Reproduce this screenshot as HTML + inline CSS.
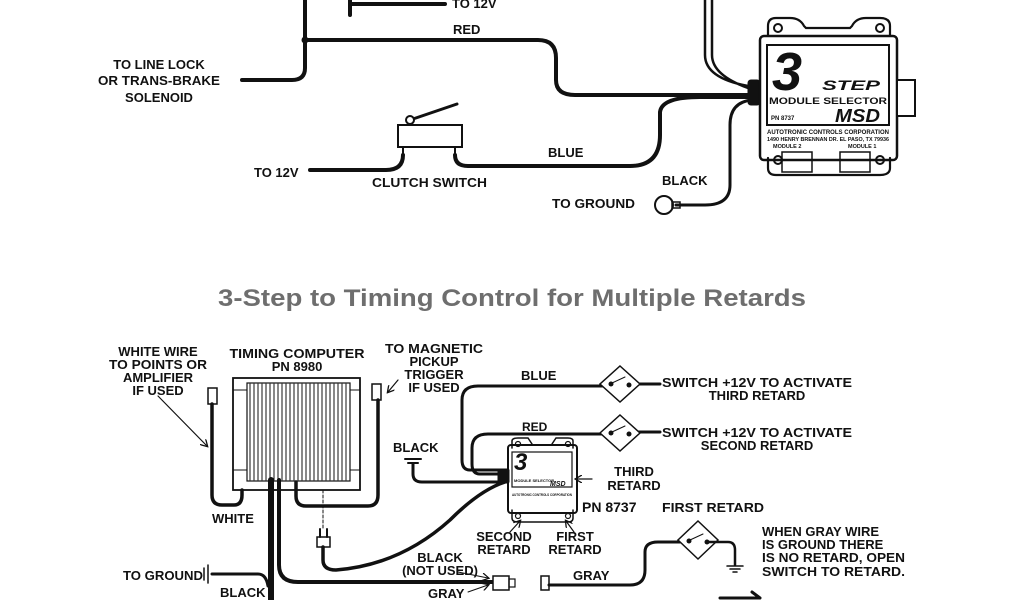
<!DOCTYPE html>
<html><head><meta charset="utf-8"><style>
html,body{margin:0;padding:0;background:#fff}
svg{display:block}
text{font-family:"Liberation Sans Narrow","Liberation Sans",sans-serif;font-weight:bold;fill:#111}
</style></head><body>
<svg width="1024" height="600" viewBox="0 0 1024 600" xmlns="http://www.w3.org/2000/svg">
<defs>
<marker id="ah" markerWidth="8" markerHeight="8" refX="6" refY="4" orient="auto" markerUnits="userSpaceOnUse"><path d="M0,0 L7,4 L0,8" fill="none" stroke="#111" stroke-width="1.3"/></marker>
</defs>
<g fill="none" stroke="#111" stroke-linecap="round">
<path d="M350,0 V15 M350,4 H445" stroke-width="4"/>
<path d="M305,0 V68 Q305,80 292,80 H242" stroke-width="4"/>
<circle cx="305" cy="40" r="3" fill="#111"/>
<path d="M305,40 H538 Q556,40 556,58 V80 Q556,95 575,95 H752" stroke-width="4"/>
<path d="M705,0 V55 Q705,78 748,86 M712,0 V55 Q712,75 748,88" stroke-width="2.5"/>
<path d="M310,170 H386 Q403,170 403,155" stroke-width="4"/>
<rect x="398" y="125" width="64" height="22" stroke-width="2" fill="#fff"/>
<path d="M410,120 L457,104" stroke-width="3"/>
<circle cx="410" cy="120" r="4" stroke-width="2" fill="#fff"/>
<path d="M403,147 V156 M455,147 V156" stroke-width="2"/>
<path d="M455,155 Q455,166 468,166 H630 Q660,166 660,135 V112 Q662,97 700,97 H752" stroke-width="4"/>
<path d="M752,100 Q730,102 730,125 V185 Q730,205 705,205 H676" stroke-width="3"/>
<ellipse cx="664" cy="205" rx="9" ry="9" stroke-width="2"/>
<rect x="672" y="202" width="8" height="6" stroke-width="1.5"/>
<rect x="748" y="80" width="12" height="25" rx="3" fill="#111" stroke-width="1"/>
<path d="M768,36 V26 Q768,18 776,18 H790 Q800,18 804,26 L806,28 H850 L852,26 Q856,18 866,18 H880 Q890,18 890,26 V36" stroke-width="2.2" fill="#fff"/>
<circle cx="778" cy="28" r="4" stroke-width="2"/><circle cx="880" cy="28" r="4" stroke-width="2"/>
<rect x="760" y="36" width="137" height="124" rx="4" stroke-width="2.5" fill="#fff"/>
<rect x="767" y="45" width="122" height="80" stroke-width="2"/>
<path d="M768,158 V168 Q768,175 776,175 H880 Q890,175 890,168 V158" stroke-width="2.2"/>
<circle cx="778" cy="160" r="4" stroke-width="2"/><circle cx="880" cy="160" r="4" stroke-width="2"/>
<rect x="782" y="152" width="30" height="20" stroke-width="1.5"/><rect x="840" y="152" width="30" height="20" stroke-width="1.5"/>
<rect x="897" y="80" width="18" height="36" stroke-width="2" fill="#fff"/>
<rect x="233" y="378" width="127" height="112" stroke-width="1.8" fill="#fff"/>
<rect x="247" y="383" width="103" height="98" stroke-width="1.2"/>
<path d="M250,384 V480 M254,384 V480 M258,384 V480 M262,384 V480 M266,384 V480 M270,384 V480 M274,384 V480 M278,384 V480 M282,384 V480 M286,384 V480 M290,384 V480 M294,384 V480 M298,384 V480 M302,384 V480 M306,384 V480 M310,384 V480 M314,384 V480 M318,384 V480 M322,384 V480 M326,384 V480 M330,384 V480 M334,384 V480 M338,384 V480 M342,384 V480 M346,384 V480" stroke-width="1"/>
<path d="M233,390 H247 M350,390 H360 M233,470 H247 M350,470 H360" stroke-width="1"/>
<rect x="208" y="388" width="9" height="16" stroke-width="1.5"/>
<rect x="372" y="384" width="9" height="16" stroke-width="1.5"/>
<path d="M212,404 V495 Q212,505 222,505 H234 Q242,505 242,495 V490" stroke-width="3.5"/>
<path d="M378,400 V495 Q378,506 368,506 H306 Q296,506 296,496 V482" stroke-width="3.5"/>
<path d="M158,396 L207,446" stroke-width="1.2" marker-end="url(#ah)"/>
<path d="M398,380 L388,392" stroke-width="1.2" marker-end="url(#ah)"/>
<path d="M323,490 V528" stroke-width="1" stroke-dasharray="3,2"/>
<rect x="317" y="537" width="13" height="10" stroke-width="1.5"/>
<path d="M320,529 V537 M327,529 V537" stroke-width="2"/>
<path d="M323,547 V560 Q323,570 336,570 Q400,565 450,520 Q480,490 505,482" stroke-width="3.5"/>
<path d="M271,480 V600" stroke-width="6"/>
<path d="M279,480 V565 Q279,582 298,582 H492" stroke-width="4"/>
<path d="M212,574 H258 Q266,574 268,586" stroke-width="3"/>
<path d="M204,568 V580 M208,565 V583" stroke-width="1.5"/>
<path d="M458,572 L488,578" stroke-width="1" marker-end="url(#ah)"/>
<path d="M468,592 L488,585" stroke-width="1" marker-end="url(#ah)"/>
<rect x="493" y="576" width="16" height="14" stroke-width="1.5" fill="#fff"/>
<rect x="509" y="579" width="6" height="8" stroke-width="1.2"/>
<rect x="541" y="576" width="8" height="14" stroke-width="1.5"/>
<path d="M549,585 H630 Q645,585 645,570 V552 Q645,542 658,542 H680" stroke-width="3"/>
<path d="M508,470 H470 Q462,470 462,460 V400 Q462,386 478,386 H605" stroke-width="3"/>
<path d="M508,474 H480 Q472,474 472,464 V448 Q472,434 488,434 H605" stroke-width="3"/>
<path d="M413,464 V474 Q413,482 422,482 H508" stroke-width="3"/>
<path d="M405,459 H421 M408,463 H418" stroke-width="2"/>
<path d="M636,384 H660 M636,432 H660" stroke-width="3"/>
<path d="M620,366 L640,384 L620,402 L600,384 Z" stroke-width="1.5" fill="#fff"/>
<path d="M620,415 L640,433 L620,451 L600,433 Z" stroke-width="1.5" fill="#fff"/>
<path d="M698,521 L718,540 L698,559 L678,540 Z" stroke-width="1.5" fill="#fff"/>
<g fill="#111" stroke="none"><circle cx="611" cy="384" r="2.5"/><circle cx="629" cy="385" r="2.5"/><circle cx="611" cy="433" r="2.5"/><circle cx="629" cy="434" r="2.5"/><circle cx="689" cy="541" r="2.5"/><circle cx="707" cy="542" r="2.5"/></g>
<path d="M612,383 L625,377 M612,432 L625,426 M690,540 L703,534" stroke-width="1"/>
<path d="M707,542 H728 Q735,542 735,550 V565" stroke-width="2.5"/>
<path d="M727,566 H743 M730,569 H740 M733,572 H737" stroke-width="1.5"/>
<rect x="508" y="445" width="69" height="68" rx="3" stroke-width="2" fill="#fff"/>
<path d="M512,448 V441 Q512,438 518,438 H528 L532,444 M552,444 L556,438 H568 Q573,438 573,441 V448" stroke-width="1.5"/>
<circle cx="518" cy="444" r="2.5" stroke-width="1.2"/><circle cx="568" cy="444" r="2.5" stroke-width="1.2"/>
<rect x="512" y="452" width="60" height="35" stroke-width="1.2"/>
<path d="M512,510 V518 Q512,522 518,522 H568 Q573,522 573,518 V510" stroke-width="1.5"/>
<circle cx="518" cy="516" r="2.5" stroke-width="1.2"/><circle cx="568" cy="516" r="2.5" stroke-width="1.2"/>
<rect x="498" y="470" width="11" height="12" fill="#111" stroke-width="1"/>
<path d="M592,479 H576" stroke-width="1.2" marker-end="url(#ah)"/>
<path d="M510,532 L520,521" stroke-width="1.2" marker-end="url(#ah)"/>
<path d="M574,532 L566,521" stroke-width="1.2" marker-end="url(#ah)"/>
<path d="M720,598 H760 M752,592 L760,598" stroke-width="3"/>
</g>
<text x="772" y="90" style="font-size:54px;font-style:italic;font-family:'Liberation Sans',sans-serif;font-weight:900">3</text>
<text x="822" y="90" style="font-size:14px;font-style:italic" textLength="58" lengthAdjust="spacingAndGlyphs">STEP</text>
<text x="769" y="104" style="font-size:9px" textLength="118" lengthAdjust="spacingAndGlyphs">MODULE SELECTOR</text>
<text x="771" y="120" style="font-size:6px">PN 8737</text>
<text x="835" y="122" style="font-size:18px;font-style:italic" textLength="45" lengthAdjust="spacingAndGlyphs">MSD</text>
<text x="767" y="134" style="font-size:6px" textLength="122" lengthAdjust="spacingAndGlyphs">AUTOTRONIC CONTROLS CORPORATION</text>
<text x="767" y="141" style="font-size:5px" textLength="122" lengthAdjust="spacingAndGlyphs">1490 HENRY BRENNAN DR. EL PASO, TX 79936</text>
<text x="773" y="148" style="font-size:5.5px">MODULE 2</text>
<text x="848" y="148" style="font-size:5.5px">MODULE 1</text>
<text x="514" y="470" style="font-size:24px;font-style:italic;font-family:'Liberation Sans',sans-serif;font-weight:900">3</text>
<text x="514" y="482" style="font-size:4px">MODULE SELECTOR</text>
<text x="550" y="486" style="font-size:7px;font-style:italic">MSD</text>
<text x="512" y="496" style="font-size:3.5px" textLength="60" lengthAdjust="spacingAndGlyphs">AUTOTRONIC CONTROLS CORPORATION</text>
<g style="font-size:13px">
<text x="452" y="8">TO 12V</text>
<text x="453" y="34">RED</text>
<text x="159" y="69" text-anchor="middle">TO LINE LOCK</text>
<text x="159" y="85" text-anchor="middle" textLength="122" lengthAdjust="spacingAndGlyphs">OR TRANS-BRAKE</text>
<text x="159" y="102" text-anchor="middle">SOLENOID</text>
<text x="548" y="157">BLUE</text>
<text x="254" y="177">TO 12V</text>
<text x="372" y="187" textLength="115" lengthAdjust="spacingAndGlyphs">CLUTCH SWITCH</text>
<text x="662" y="185">BLACK</text>
<text x="552" y="208" textLength="83" lengthAdjust="spacingAndGlyphs">TO GROUND</text>
<text x="158" y="356" text-anchor="middle">WHITE WIRE</text>
<text x="158" y="369" text-anchor="middle" textLength="98" lengthAdjust="spacingAndGlyphs">TO POINTS OR</text>
<text x="158" y="382" text-anchor="middle">AMPLIFIER</text>
<text x="158" y="395" text-anchor="middle">IF USED</text>
<text x="297" y="358" text-anchor="middle" textLength="135" lengthAdjust="spacingAndGlyphs">TIMING COMPUTER</text>
<text x="297" y="371" text-anchor="middle">PN 8980</text>
<text x="434" y="353" text-anchor="middle" textLength="98" lengthAdjust="spacingAndGlyphs">TO MAGNETIC</text>
<text x="434" y="366" text-anchor="middle">PICKUP</text>
<text x="434" y="379" text-anchor="middle">TRIGGER</text>
<text x="434" y="392" text-anchor="middle">IF USED</text>
<text x="521" y="380">BLUE</text>
<text x="522" y="431" style="font-size:12px">RED</text>
<text x="393" y="452">BLACK</text>
<text x="662" y="387" textLength="190" lengthAdjust="spacingAndGlyphs">SWITCH +12V TO ACTIVATE</text>
<text x="757" y="400" text-anchor="middle">THIRD RETARD</text>
<text x="662" y="437" textLength="190" lengthAdjust="spacingAndGlyphs">SWITCH +12V TO ACTIVATE</text>
<text x="757" y="450" text-anchor="middle">SECOND RETARD</text>
<text x="634" y="476" text-anchor="middle">THIRD</text>
<text x="634" y="490" text-anchor="middle">RETARD</text>
<text x="582" y="512" style="font-size:14px">PN 8737</text>
<text x="662" y="512" textLength="102" lengthAdjust="spacingAndGlyphs">FIRST RETARD</text>
<text x="212" y="523">WHITE</text>
<text x="504" y="541" text-anchor="middle">SECOND</text>
<text x="504" y="554" text-anchor="middle">RETARD</text>
<text x="575" y="541" text-anchor="middle">FIRST</text>
<text x="575" y="554" text-anchor="middle">RETARD</text>
<text x="440" y="562" text-anchor="middle">BLACK</text>
<text x="440" y="575" text-anchor="middle">(NOT USED)</text>
<text x="573" y="580">GRAY</text>
<text x="762" y="536">WHEN GRAY WIRE</text>
<text x="762" y="549">IS GROUND THERE</text>
<text x="762" y="562" textLength="143" lengthAdjust="spacingAndGlyphs">IS NO RETARD, OPEN</text>
<text x="762" y="576" textLength="143" lengthAdjust="spacingAndGlyphs">SWITCH TO RETARD.</text>
<text x="123" y="580" textLength="80" lengthAdjust="spacingAndGlyphs">TO GROUND</text>
<text x="220" y="597">BLACK</text>
<text x="428" y="598">GRAY</text>
</g>
<text x="512" y="306" text-anchor="middle" textLength="588" lengthAdjust="spacingAndGlyphs" style="font-family:'Liberation Sans',sans-serif;font-size:24px;fill:#6e6e6e">3-Step to Timing Control for Multiple Retards</text>
</svg>
</body></html>
